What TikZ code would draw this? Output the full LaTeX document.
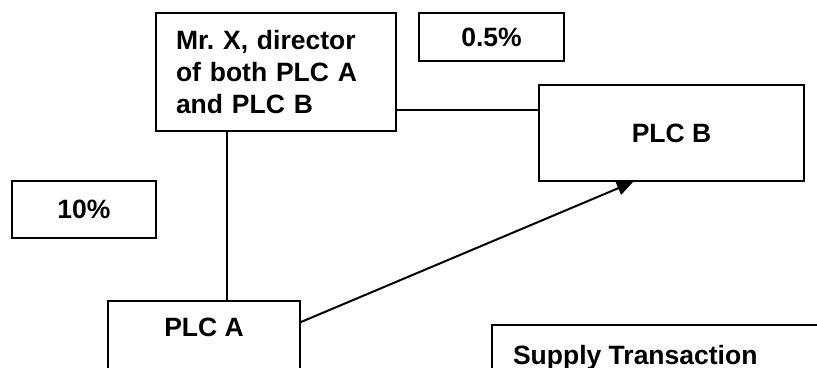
\documentclass[tikz,border=0pt]{standalone}
\usepackage{fontspec}
\setmainfont{Liberation Sans}
\usetikzlibrary{arrows.meta,positioning}
\frenchspacing
\begin{document}
\begin{tikzpicture}[x=1pt,y=-1pt,line width=2pt,
    box/.style={draw,inner sep=0pt,anchor=north west},
    txt/.style={inner sep=0pt,font=\bfseries\fontsize{26.5}{32}\selectfont}]
    \useasboundingbox (0,0) rectangle (817,367);
    \clip (0,0) rectangle (817,367);
    \node[box,txt,text width=200pt,inner xsep=20pt,align=left,minimum height=118pt] (mrx) at (155,12) {Mr.\ X, director\\of both PLC A\\and PLC B};
    \node[box,txt,minimum width=145pt,minimum height=48pt] (half) at (418,12) {0.5\%};
    \node[box,txt,minimum width=265pt,minimum height=96pt] (plcb) at (538,84) {PLC B};
    \node[box,txt,minimum width=144pt,minimum height=57pt] (ten) at (11,180) {10\%};
    \node[box,minimum width=192pt,minimum height=100pt] (plca) at (107,300) {};
    \node[txt,below=17pt of plca.north] (plcatext) {PLC A};
    \node[box,minimum width=400pt,minimum height=100pt] (supply) at (491,324) {};
    \node[txt,anchor=north west] (supplytext) at ([xshift=21pt,yshift=-20pt]supply.north west) {Supply Transaction};
    \draw ([yshift=22pt]mrx.south east) -- ([yshift=22pt]mrx.south east -| plcb.west);
    \draw ([xshift=72pt]mrx.south west) -- ([xshift=72pt]mrx.south west |- plca.north);
    \draw[-{Triangle[length=16pt,width=14pt]}] ([yshift=-22pt]plca.north east) -- ([xshift=95pt]plcb.south west);
\end{tikzpicture}
\end{document}
